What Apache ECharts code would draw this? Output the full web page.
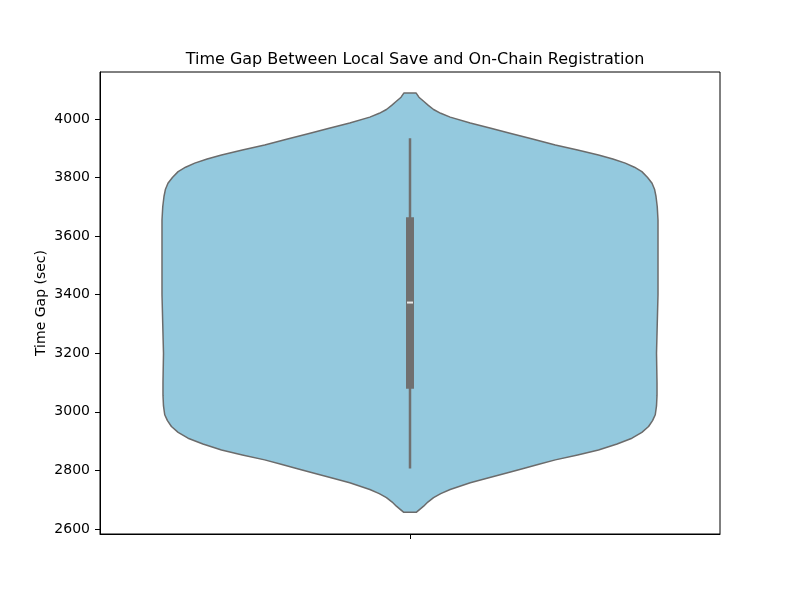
<!DOCTYPE html>
<html>
<head>
<meta charset="utf-8">
<script src="https://cdn.jsdelivr.net/npm/echarts@6/dist/echarts.min.js"></script>
<style>
  html, body { margin: 0; padding: 0; background: #fff; }
  #chart { width: 800px; height: 600px; }
</style>
</head>
<body>
<div id="chart"></div>
<script>
// violin outline: value (sec) and relative width (1 = widest)
var violinY = [4088, 4074, 4060, 4046, 4032, 4019, 4006, 3986, 3967, 3951, 3931, 3911, 3894, 3877, 3863, 3849,
               3835, 3820, 3800, 3780, 3760, 3735, 3700, 3655,
               3500, 3400, 3300, 3200, 3100, 3057, 3020, 2990, 2970, 2950, 2930, 2910, 2890, 2870,
               2853, 2836, 2820, 2805, 2791, 2775, 2758, 2735, 2721, 2707, 2692, 2678, 2657];
var violinDensity = [0.025, 0.036, 0.055, 0.074, 0.095, 0.124, 0.162, 0.243, 0.330, 0.403, 0.494, 0.586, 0.676, 0.760, 0.818, 0.868,
                     0.905, 0.935, 0.958, 0.976, 0.986, 0.992, 0.997, 1.0,
                     1.0, 1.0, 0.997, 0.994, 0.996, 0.996, 0.994, 0.989, 0.978, 0.962, 0.935, 0.895, 0.835, 0.760,
                     0.676, 0.586, 0.516, 0.450, 0.390, 0.318, 0.243, 0.162, 0.124, 0.095, 0.072, 0.055, 0.025];
// inner box: whisker low, Q1, median, Q3, whisker high
var boxStats = [2807, 3079, 3373, 3664, 3934];
var yTicks = [2600, 2800, 3000, 3200, 3400, 3600, 3800, 4000];

var chart = echarts.init(document.getElementById('chart'));
var font = 'DejaVu Sans';
var halfWidth = 0.4;

var option = {
    animation: false,
    backgroundColor: '#fff',
    title: {
        text: 'Time Gap Between Local Save and On-Chain Registration',
        left: 410,
        top: 47,
        textAlign: 'center',
        textStyle: { fontFamily: font, fontSize: 16, fontWeight: 'normal', color: '#000' }
    },
    grid: {
        left: 100, right: 80, top: 72, bottom: 66,
        show: true, borderColor: '#000', borderWidth: 1, backgroundColor: 'transparent'
    },
    xAxis: {
        type: 'value',
        min: -0.5, max: 0.5,
        splitLine: { show: false },
        axisLine: { show: true, onZero: false, lineStyle: { color: '#000', width: 1 } },
        axisTick: { show: true, length: 5, customValues: [0], lineStyle: { color: '#000' } },
        axisLabel: { show: false }
    },
    yAxis: {
        type: 'value',
        min: 2583, max: 4160,
        name: 'Time Gap (sec)',
        nameLocation: 'middle',
        nameGap: 52,
        nameMoveOverlap: false,
        nameTextStyle: { fontFamily: font, fontSize: 14, color: '#000' },
        splitLine: { show: false },
        axisLine: { show: true, onZero: false, lineStyle: { color: '#000', width: 1 } },
        axisTick: { show: true, length: 5, customValues: yTicks, lineStyle: { color: '#000' } },
        axisLabel: {
            customValues: yTicks, margin: 10, fontFamily: font, fontSize: 14, color: '#000',
            formatter: function (v) { return String(v); }
        }
    },
    series: [
        {
            type: 'custom',
            data: [[0]],
            z: 2,
            renderItem: function (params, api) {
                var right = [], left = [];
                for (var i = 0; i < violinY.length; i++) {
                    var w = violinDensity[i] * halfWidth;
                    right.push(api.coord([w, violinY[i]]));
                    left.unshift(api.coord([-w, violinY[i]]));
                }
                return {
                    type: 'polygon',
                    shape: { points: right.concat(left) },
                    style: { fill: '#94c9de', stroke: '#6b6b6b', lineWidth: 1.5, lineJoin: 'round' }
                };
            }
        },
        {
            type: 'custom',
            data: [[0]],
            z: 3,
            renderItem: function (params, api) {
                var lo = api.coord([0, boxStats[0]]);
                var q1 = api.coord([0, boxStats[1]]);
                var med = api.coord([0, boxStats[2]]);
                var q3 = api.coord([0, boxStats[3]]);
                var hi = api.coord([0, boxStats[4]]);
                var x = lo[0];
                return {
                    type: 'group',
                    children: [
                        { type: 'line', shape: { x1: x, y1: lo[1], x2: x, y2: hi[1] },
                          style: { stroke: '#707070', lineWidth: 2.5 } },
                        { type: 'rect', shape: { x: x - 4, y: q3[1], width: 8, height: q1[1] - q3[1] },
                          style: { fill: '#707070' } },
                        { type: 'rect', shape: { x: x - 3, y: med[1] - 1, width: 6, height: 2 },
                          style: { fill: '#e8e8e8' } }
                    ]
                };
            }
        }
    ]
};
chart.setOption(option);
</script>
</body>
</html>
